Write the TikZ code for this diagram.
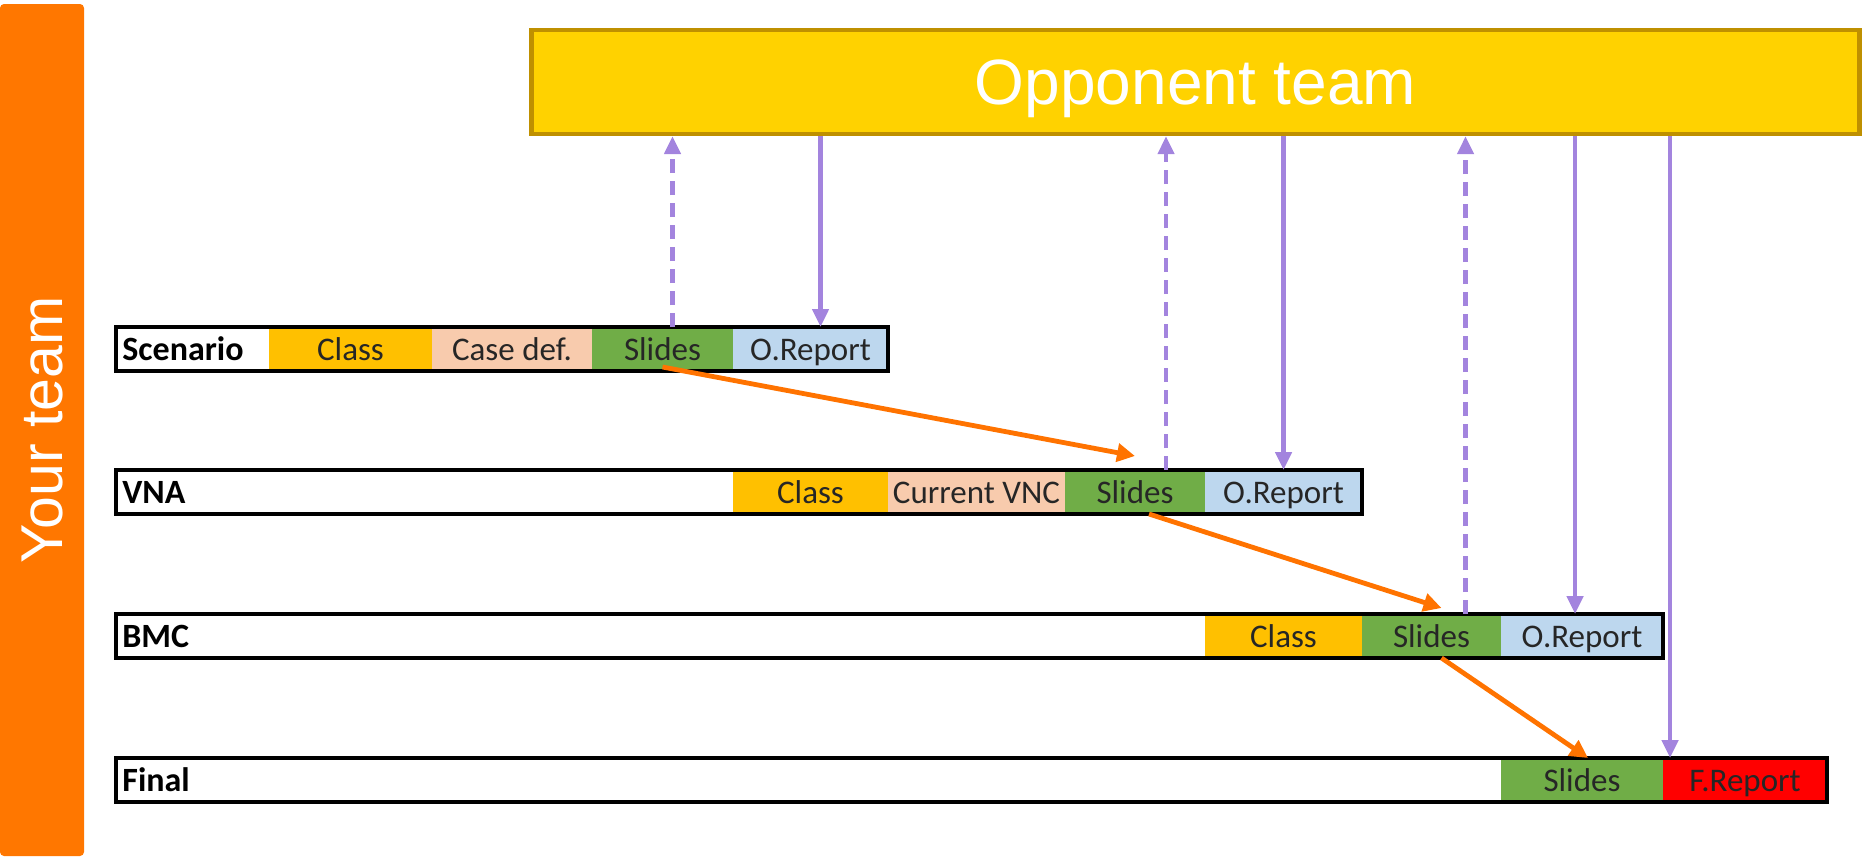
\documentclass[tikz,border=0pt]{standalone}
\usepackage{fontspec}
\setmainfont{Carlito}
\newfontfamily\arialfont{Liberation Sans}
\usetikzlibrary{positioning,arrows.meta}

\definecolor{classcol}{HTML}{FFC000}
\definecolor{defcol}{HTML}{F8CBAD}
\definecolor{slidecol}{HTML}{70AD47}
\definecolor{repcol}{HTML}{BDD7EE}
\definecolor{fincol}{HTML}{FF0000}
\definecolor{teamorange}{HTML}{FF7700}
\definecolor{oppfill}{HTML}{FFD200}
\definecolor{oppline}{HTML}{BF9000}
\definecolor{lilac}{HTML}{A384DE}
\definecolor{flow}{HTML}{FF7300}

\begin{document}
\begin{tikzpicture}[x=0.5pt,y=-0.5pt,
  cell/.style 2 args={fill=#1, minimum width=#2*0.5pt, minimum height=22pt,
    inner sep=0pt, outer sep=0pt, text height=12pt, text depth=0.5pt,
    font=\fontsize{16.5}{18}\selectfont, text=black!85},
  rowbox/.style={cell={white}{#1}},
  rowname/.style={anchor=west, inner xsep=3pt, inner ysep=0pt, text height=12pt,
    text depth=0.5pt, font=\bfseries\fontsize{17}{18}\selectfont},
  bar/.style={draw=black, line width=1.8pt},
  ask/.style={draw=lilac, line width=2.4pt, dash pattern=on 7pt off 4pt,
    -{Triangle[length=9pt,width=8pt]}},
  give/.style={draw=lilac, line width=2.4pt, -{Triangle[length=9pt,width=8pt]}},
  pass/.style={draw=flow, line width=2.4pt, -{Triangle[length=9pt,width=9pt]}}]

  \useasboundingbox (0,0) rectangle (1864,858);

  \node[fill=teamorange, rounded corners=2pt, rotate=90, minimum width=426pt,
    minimum height=42pt, inner sep=0pt, text=white,
    font=\arialfont\fontsize{29.5}{32}\selectfont] (us) at (42,430) {Your team};

  \node[fill=oppfill, draw=oppline, line width=2.2pt, minimum width=664pt,
    minimum height=52pt, inner sep=0pt, text=white, text height=22.9pt, text depth=0pt,
    font=\arialfont\fontsize{32}{36}\selectfont] (opp) at (1195.5,82) {Opponent team};

  % Scenario
  \node[rowbox=153, anchor=west] (sc) at (116,349) {};
  \node[rowname] (sc-name) at (sc.west) {Scenario};
  \node[cell={classcol}{163}, right=0pt of sc] (sc-class) {Class};
  \node[cell={defcol}{160}, right=0pt of sc-class] (sc-def) {Case def.};
  \node[cell={slidecol}{141}, right=0pt of sc-def] (sc-slides) {Slides};
  \node[cell={repcol}{155}, right=0pt of sc-slides] (sc-rep) {O.Report};
  \draw[bar] (sc.north west) rectangle (sc-rep.south east);

  % VNA
  \node[rowbox=617, anchor=west] (vna) at (116,492) {};
  \node[rowname] (vna-name) at (vna.west) {VNA};
  \node[cell={classcol}{155}, right=0pt of vna] (vna-class) {Class};
  \node[cell={defcol}{177}, right=0pt of vna-class] (vna-def) {Current VNC};
  \node[cell={slidecol}{140}, right=0pt of vna-def] (vna-slides) {Slides};
  \node[cell={repcol}{157}, right=0pt of vna-slides] (vna-rep) {O.Report};
  \draw[bar] (vna.north west) rectangle (vna-rep.south east);

  % BMC
  \node[rowbox=1089, anchor=west] (bmc) at (116,636) {};
  \node[rowname] (bmc-name) at (bmc.west) {BMC};
  \node[cell={classcol}{157}, right=0pt of bmc] (bmc-class) {Class};
  \node[cell={slidecol}{139}, right=0pt of bmc-class] (bmc-slides) {Slides};
  \node[cell={repcol}{162}, right=0pt of bmc-slides] (bmc-rep) {O.Report};
  \draw[bar] (bmc.north west) rectangle (bmc-rep.south east);

  % Final
  \node[rowbox=1385, anchor=west] (fin) at (116,780) {};
  \node[rowname] (fin-name) at (fin.west) {Final};
  \node[cell={slidecol}{162}, right=0pt of fin] (fin-slides) {Slides};
  \node[cell={fincol}{164}, right=0pt of fin-slides] (fin-rep) {F.Report};
  \draw[bar] (fin.north west) rectangle (fin-rep.south east);

  % slides go up, reports come down
  \coordinate (up1) at ([xshift=5pt]sc-slides.north);
  \coordinate (up2) at ([xshift=15.5pt]vna-slides.north);
  \coordinate (up3) at ([xshift=17pt]bmc-slides.north);
  \coordinate (dn1) at ([xshift=5pt]sc-rep.north);
  \coordinate (dn2) at (vna-rep.north);
  \coordinate (dn3) at ([xshift=-3.5pt]bmc-rep.north);
  \coordinate (dn4) at ([xshift=3.5pt]fin-rep.north west);

  \draw[ask] (up1) -- (up1 |- opp.south);
  \draw[ask] (up2) -- (up2 |- opp.south);
  \draw[ask] (up3) -- (up3 |- opp.south);
  \draw[give] (dn1 |- opp.south) -- (dn1);
  \draw[give] (dn2 |- opp.south) -- (dn2);
  \draw[give] (dn3 |- opp.south) -- (dn3);
  \draw[give] (dn4 |- opp.south) -- (dn4);

  \draw[pass] ([yshift=2pt]sc-slides.south) -- ([yshift=7pt]vna-slides.north);
  \draw[pass] ([xshift=7pt]vna-slides.south) -- ([xshift=5pt,yshift=3pt]bmc-slides.north);
  \draw[pass] ([xshift=5pt]bmc-slides.south) -- ([xshift=3pt]fin-slides.north);

\end{tikzpicture}
\end{document}
